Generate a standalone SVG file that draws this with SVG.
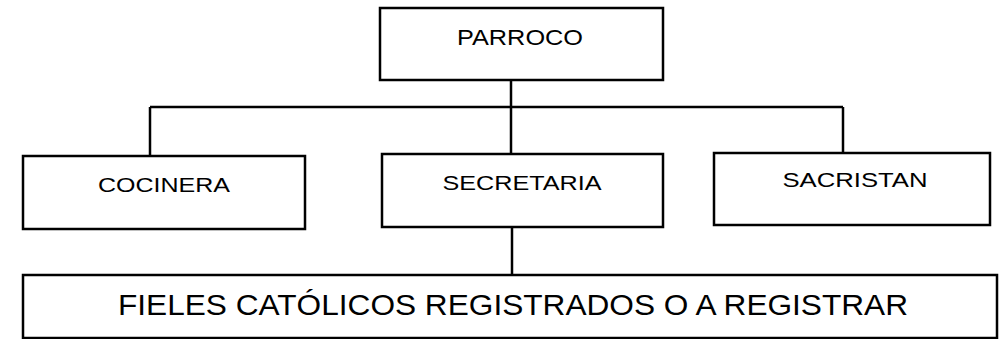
<svg xmlns="http://www.w3.org/2000/svg" width="1000" height="339" viewBox="0 0 1000 339">
<style>
.box{fill:#fff;stroke:#000;stroke-width:2.5}
.lbl{font-family:"Liberation Sans",Arial,sans-serif;fill:#000;text-anchor:middle}
.con{fill:none;stroke:#000;stroke-width:2.5}
</style>
<rect width="1000" height="339" fill="#fff"/>
<g id="connectors">
<path class="con" d="M511 80 V154"/>
<path class="con" d="M150 107 H843"/>
<path class="con" d="M150 107 V155"/>
<path class="con" d="M843 107 V152"/>
<path class="con" d="M512 227 V274"/>
</g>
<g id="parroco">
<rect class="box" x="380" y="8" width="283" height="72"/>
<text class="lbl" x="520" y="45" font-size="22" textLength="126" lengthAdjust="spacingAndGlyphs">PARROCO</text>
</g>
<g id="cocinera">
<rect class="box" x="23" y="156" width="282" height="73"/>
<text class="lbl" x="164" y="192" font-size="21" textLength="132" lengthAdjust="spacingAndGlyphs">COCINERA</text>
</g>
<g id="secretaria">
<rect class="box" x="382" y="154" width="281" height="73"/>
<text class="lbl" x="522" y="190" font-size="21" textLength="159" lengthAdjust="spacingAndGlyphs">SECRETARIA</text>
</g>
<g id="sacristan">
<rect class="box" x="714" y="153" width="276" height="72"/>
<text class="lbl" x="855" y="187" font-size="21" textLength="145" lengthAdjust="spacingAndGlyphs">SACRISTAN</text>
</g>
<g id="fieles">
<rect class="box" x="23" y="275" width="974" height="63"/>
<text class="lbl" x="513" y="315" font-size="30" textLength="790" lengthAdjust="spacingAndGlyphs">FIELES CATÓLICOS REGISTRADOS O A REGISTRAR</text>
</g>
</svg>
